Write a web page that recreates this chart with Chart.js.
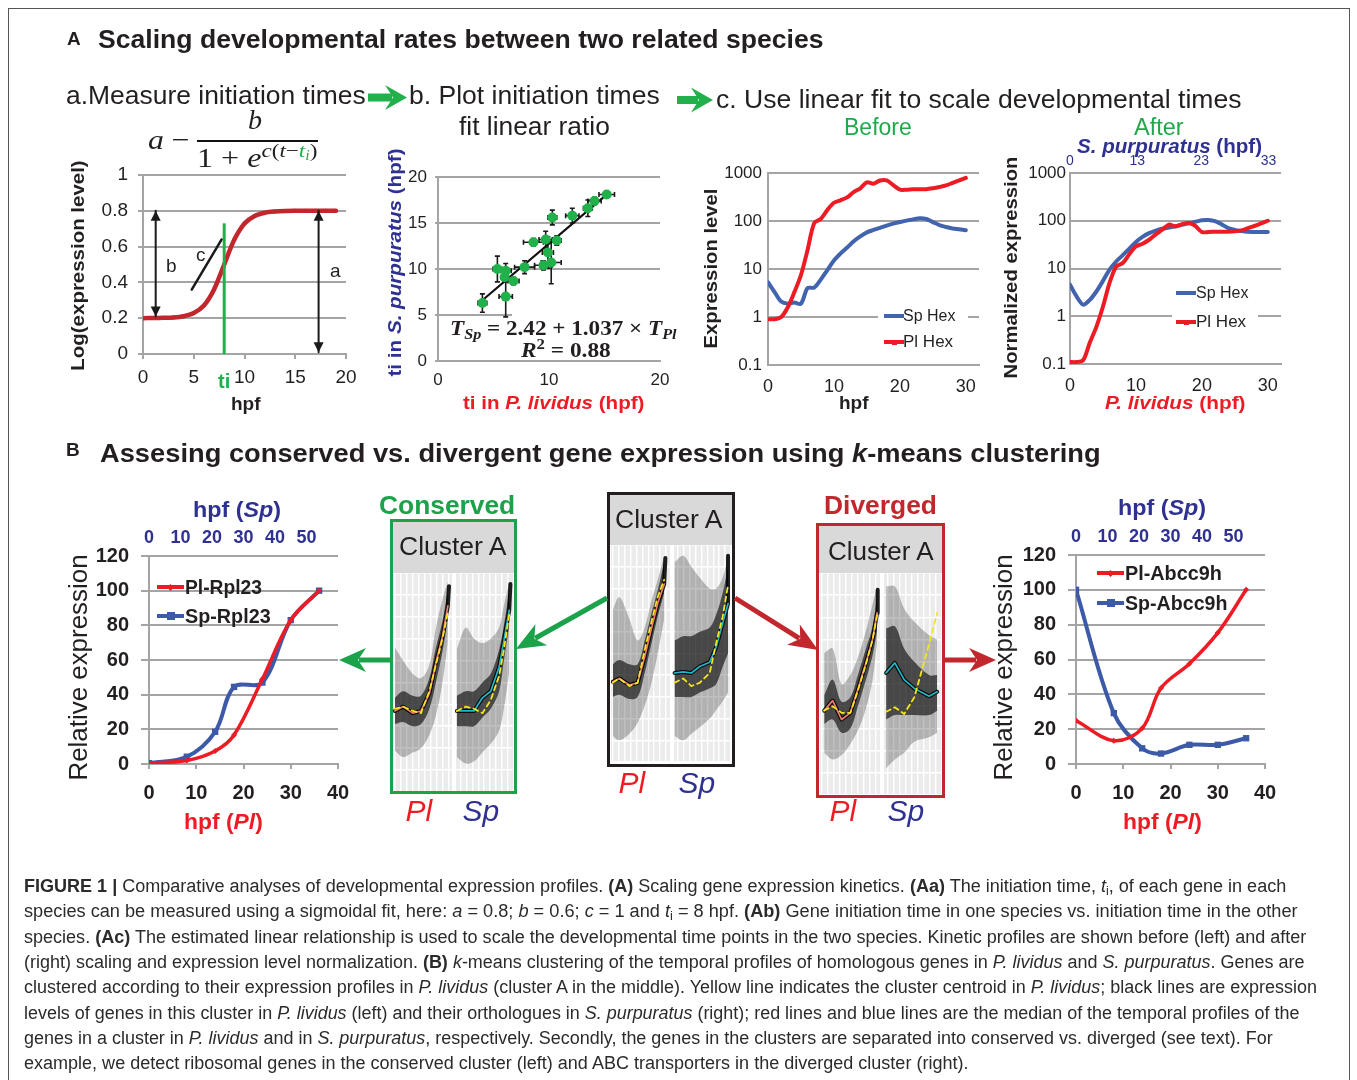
<!DOCTYPE html>
<html><head><meta charset="utf-8">
<script src="https://cdn.jsdelivr.net/npm/chart.js@4.4.1/dist/chart.umd.min.js"></script>
<style>
html,body{margin:0;padding:0;background:#fff;}
body{width:1357px;height:1080px;position:relative;overflow:hidden;font-family:"Liberation Sans",Arial,sans-serif;color:#231f20;}
.t{position:absolute;white-space:nowrap;line-height:1;}
.t sub{font-size:0.7em;vertical-align:-0.25em;line-height:0;}
.t sup{font-size:0.72em;vertical-align:0.5em;line-height:0;}
canvas{position:absolute;}
.box{position:absolute;box-sizing:border-box;}
</style></head><body>
<script>
// ===================== DATA =====================
// A-a: sigmoid fit example
const aaHpf = [0,1,2,3,4,5,6,7,8,9,10,11,12,13,14,15,16,17,18,19];
const aaLogExpr = [0.200,0.201,0.202,0.204,0.211,0.229,0.271,0.361,0.500,0.639,0.729,0.771,0.789,0.796,0.799,0.800,0.800,0.800,0.800,0.800];
const aaXTicks = [0,5,10,15,20];
const aaXTickLabels = ['0','5','10','15','20'];
const aaYTicks = [0,0.2,0.4,0.6,0.8,1];
const aaYTickLabels = ['0','0.2','0.4','0.6','0.8','1'];
const aaTiX = [8,8];            const aaTiY = [0,0.73];
const aaArrowBX = [1.25,1.25];  const aaArrowBY = [0.21,0.8];
const aaArrowAX = [17.3,17.3];  const aaArrowAY = [0.01,0.8];
const aaSlopeX = [4.8,7.75];    const aaSlopeY = [0.36,0.64];

// A-b: initiation times, P. lividus vs S. purpuratus
const abPl    = [4.0,5.35,6.1,6.0,6.1,6.8,7.8,8.6,9.5,9.7,9.9,10.2,10.3,10.7,12.1,13.5,14.1,15.2];
const abSp    = [6.3,10.0,9.8,9.1,7.0,8.7,10.2,12.9,10.4,13.2,11.8,10.7,15.6,13.1,15.8,16.6,17.4,18.1];
const abPlErr = [0.4,0.4,0.5,0.3,0.6,0.5,0.9,0.9,0.8,0.6,0.5,0.9,0.4,0.4,0.6,0.4,0.6,0.7];
const abSpErr = [1.0,1.4,0.8,0.5,2.2,0.4,0.7,0.4,0.5,0.9,1.7,2.3,0.8,0.5,0.8,0.9,0.4,0.3];
const abFitPl = [4.0,15.3];
const abFitSp = [6.6,18.2];
const abXTicks = [0,10,20];      const abXTickLabels = ['0','10','20'];
const abYTicks = [0,5,10,15,20]; const abYTickLabels = ['0','5','10','15','20'];

// A-c: Hex expression before / after scaling
const hexHpf = [0,1,2,3,4,5,6,7,8,9,10,11,12,13,14,15,16,17,18,19,20,21,22,23,24,25,26,27,28,29,30];
const spHexBefore = [5.3,3.3,2.1,1.9,2.0,1.9,4.0,4.1,6,9.5,15,21,28,38,48,58,65,72,80,88,95,102,108,114,110,95,82,75,70,67,64];
const plHexBefore = [0.9,0.9,1.0,1.6,3.3,7.5,25,90,110,170,240,270,310,400,480,640,600,700,700,560,450,450,460,460,460,480,510,550,620,700,790];
const spHexAfter  = [4.6,2.6,1.75,2.2,3.3,5.5,9.5,14,19,26,36,46,55,62,68,72,77,82,88,95,102,104,98,84,70,64,61,59,58,58,58];
const plHexAfter  = [0.11,0.11,0.12,0.28,0.6,1.6,5,11,13,20,29,33,40,52,65,83,76,85,90,78,58,58,59,59,59,60,63,70,78,88,100];
const logTicks = [0.1,1,10,100,1000];
const logTickLabels = ['0.1','1','10','100','1000'];
const hexXTicks = [0,10,20,30];  const hexXTickLabels = ['0','10','20','30'];
const spTopTickPos = [0,10.2,19.9,30.1];
const spTopTickLabels = ['0','13','23','33'];

// B: example genes
const bHpfPl = [0,8,14,18,24,30,36];
const plRpl23  = [0.5,2,7.5,16.7,49,83,100];
const spRpl23  = [0.5,4.2,18.6,44.5,47,83,100];
const plAbcc9h = [25,13.4,20.5,43.6,57.6,75.3,100];
const spAbcc9h = [100,29.2,9,6,11,11,14.8];
const bXTicks = [0,10,20,30,40];           const bXTickLabels = ['0','10','20','30','40'];
const bTopTicks = [0,10,20,30,40,50];      const bTopTickLabels = ['0','10','20','30','40','50'];
const bYTicks = [0,20,40,60,80,100,120];   const bYTickLabels = ['0','20','40','60','80','100','120'];

// B: cluster A profiles (panel units: x = time slot, y = scaled level)
const consPlX=[0,1.4,3.0,4.4,5.8,6.9,8.0,8.9];
const consPlMedian=[3.7,3.9,3.6,3.7,4.5,5.9,7.1,8.5];
const consPlCentroid=[3.8,3.9,3.7,3.6,4.6,5.8,7.0,8.2];
const consPlInLo=[3.1,3.2,3.0,3.1,3.8,5.0,6.4,7.9];
const consPlInHi=[4.3,4.6,4.4,4.4,5.2,6.6,7.8,9.2];
const consPlOutLo=[1.9,1.6,1.8,2.0,2.6,3.5,5.0,6.9];
const consPlOutHi=[6.6,6.0,5.4,5.2,5.8,7.5,8.8,9.6];
const consPlTop=[9.1,9.4];
const consSpX=[10.4,11.9,13.3,14.7,16.1,17.5,18.3,19.2];
const consSpMedian=[3.7,3.7,3.7,4.3,4.6,5.7,6.9,8.3];
const consSpCentroid=[3.7,3.9,3.8,3.6,4.2,5.3,6.5,8.1];
const consSpInLo=[3.0,3.0,3.0,3.4,3.8,4.6,6.0,7.6];
const consSpInHi=[4.4,4.6,4.6,5.0,5.4,6.5,7.6,9.2];
const consSpOutLo=[1.6,1.3,1.4,1.8,2.2,2.8,3.8,5.5];
const consSpOutHi=[6.5,7.5,7.0,6.8,7.0,7.5,8.5,9.6];
const consSpTop=[19.4,9.5];

const midPlX=[0,1.1,2.8,4.2,5.4,6.5,7.6,8.7];
const midPlMedian=[3.7,3.85,3.55,3.65,4.85,6.1,7.3,8.2];
const midPlCentroid=[3.65,3.85,3.5,3.65,5.15,6.4,7.6,8.4];
const midPlInLo=[3.0,3.1,2.9,3.0,4.1,5.4,6.7,7.8];
const midPlInHi=[4.5,4.7,4.5,4.5,5.6,6.8,7.9,9.2];
const midPlOutLo=[1.2,1.0,1.3,1.8,2.6,3.6,5.0,6.6];
const midPlOutHi=[7.0,7.6,6.6,5.6,6.2,7.4,8.4,9.5];
const midPlTop=[8.9,9.4];
const midSpX=[10.45,11.9,13.3,14.7,16.4,17.5,18.6,19.5];
const midSpMedian=[4.1,4.15,4.1,4.4,4.6,5.3,6.4,7.3];
const midSpCentroid=[3.65,3.85,3.5,3.65,4.1,5.5,6.7,8.15];
const midSpInLo=[3.0,3.0,3.0,3.2,3.4,3.6,4.4,5.0];
const midSpInHi=[5.6,5.8,5.8,6.0,6.2,6.8,7.8,9.0];
const midSpOutLo=[1.2,1.0,1.3,1.6,2.0,2.4,2.8,3.2];
const midSpOutHi=[9.2,9.5,9.0,8.5,8.0,8.0,8.5,9.5];
const midSpTop=[19.5,9.5];

const divPlX=[0.4,1.8,3.3,4.75,6.0,7.35,8.45,9.2];
const divPlMedian=[3.8,4.25,3.4,3.7,4.75,5.95,7.0,8.2];
const divPlCentroid=[3.8,4.0,3.7,3.7,4.7,5.9,7.0,8.1];
const divPlInLo=[3.2,3.4,2.8,3.0,4.0,5.2,6.3,7.4];
const divPlInHi=[4.5,5.2,4.2,4.4,5.4,6.6,7.6,9.0];
const divPlOutLo=[1.9,1.6,1.8,2.3,2.9,3.9,5.2,6.9];
const divPlOutHi=[6.4,6.6,5.0,5.4,6.2,7.4,8.6,9.4];
const divPlTop=[9.3,9.25];
const divSpX=[10.7,12.15,13.7,15.4,17.85,19.2];
const divSpMedian=[5.5,5.95,5.2,4.8,4.45,4.65];
const divSpCentroid=[3.75,3.95,3.65,4.4,6.8,8.2];
const divSpInLo=[3.4,3.6,3.6,3.6,3.6,3.8];
const divSpInHi=[7.5,7.6,6.6,6.0,5.4,5.4];
const divSpOutLo=[1.2,1.6,1.9,2.4,2.6,2.8];
const divSpOutHi=[9.4,9.4,8.4,7.8,7.2,7.0];
const divSpTop=null;
const clusterGridX=[0,1,2,3,4,5,6,7,8,9,10,11,12,13,14,15,16,17,18,19,20];
const clusterGridY=[0,1,2,3,4,5,6,7,8,9,10];

// ===================== STYLE =====================
const GRID='#a4a4a4', GREEN='#22a84a', RED='#ed1c24', BLUE='#2e3192', DRED='#c1272d';
const HEXBLUE='#4263ae', BBLUE='#3c5aa8';
Chart.defaults.font.family='"Liberation Sans", Arial, Helvetica, sans-serif';
Chart.defaults.color='#231f20';
Chart.defaults.animation=false;
Chart.defaults.responsive=false;
Chart.defaults.devicePixelRatio=1;
Chart.defaults.plugins.legend.display=false;
Chart.defaults.plugins.tooltip.enabled=false;
Chart.defaults.elements.point.radius=0;
Chart.defaults.elements.line.borderCapStyle='round';
Chart.defaults.elements.line.borderJoinStyle='round';

const P=(xs,ys)=>xs.map((x,i)=>({x:x,y:ys[i]}));
function cv(l,t,w,h){const c=document.createElement('canvas');c.width=w;c.height=h;
  Object.assign(c.style,{left:l+'px',top:t+'px',width:w+'px',height:h+'px'});document.body.appendChild(c);return c.getContext('2d');}
function ax(o){
  return {type:o.type||'linear',min:o.min,max:o.max,position:o.pos,
    afterBuildTicks:s=>{s.ticks=o.ticks.map(v=>({value:v}));},
    ticks:{display:!!o.labels,font:{size:o.size||18,weight:o.bold?'bold':'normal'},color:o.color||'#231f20',
      padding:o.pad==null?6:o.pad,maxRotation:0,autoSkip:false,callback:(v,i)=>o.labels?o.labels[i]:''},
    grid:{drawOnChartArea:!!o.grid,drawTicks:!!o.tl,tickLength:o.tl||0,color:o.gridColor||GRID,lineWidth:o.gridW||2},
    border:{display:o.border!==false,color:GRID,width:2},
    afterFit:s=>{if(o.w!=null)s.width=o.w;if(o.h!=null)s.height=o.h;
      s.paddingTop=0;s.paddingBottom=0;s.paddingLeft=0;s.paddingRight=0;}};
}
// create a chart whose plot area lands on the given page rectangle
function mk(l,t,w,h,rect,cfg){
  cfg.options=cfg.options||{};
  cfg.options.layout={padding:{top:0,left:0,right:0,bottom:0}};
  const ch=new Chart(cv(l,t,w,h),cfg);
  for(let k=0;k<4;k++){
    const a=ch.chartArea,p=ch.config.options.layout.padding;
    const dT=(rect[1]-t)-a.top,dL=(rect[0]-l)-a.left,dR=a.right-(rect[2]-l),dB=a.bottom-(rect[3]-t);
    if(Math.abs(dT)+Math.abs(dL)+Math.abs(dR)+Math.abs(dB)<0.5)break;
    p.top+=dT;p.left+=dL;p.right+=dR;p.bottom+=dB;ch.update();
  }
  return ch;
}
const arrowPlugin={id:'arrowEnds',afterDatasetsDraw(chart){
  const ctx=chart.ctx;
  chart.data.datasets.forEach((ds,i)=>{
    if(!ds.arrowEnds)return;
    const pts=chart.getDatasetMeta(i).data;
    const head=(p,q)=>{const a=Math.atan2(p.y-q.y,p.x-q.x),L=10,W=5;
      ctx.beginPath();ctx.moveTo(p.x,p.y);
      ctx.lineTo(p.x-L*Math.cos(a)+W*Math.sin(a),p.y-L*Math.sin(a)-W*Math.cos(a));
      ctx.lineTo(p.x-L*Math.cos(a)-W*Math.sin(a),p.y-L*Math.sin(a)+W*Math.cos(a));
      ctx.closePath();ctx.fillStyle=ds.borderColor;ctx.fill();};
    ctx.save();head(pts[0],pts[1]);head(pts[pts.length-1],pts[pts.length-2]);ctx.restore();
  });}};
const errPlugin={id:'errBars',beforeDatasetsDraw(chart){
  const xs=chart.scales.x,ys=chart.scales.y,ctx=chart.ctx;ctx.save();ctx.strokeStyle='#1a1a1a';ctx.lineWidth=1.6;
  abPl.forEach((x,i)=>{const y=abSp[i];const px=xs.getPixelForValue(x),py=ys.getPixelForValue(y);
    const x0=xs.getPixelForValue(x-abPlErr[i]),x1=xs.getPixelForValue(x+abPlErr[i]);
    const y0=ys.getPixelForValue(y-abSpErr[i]),y1=ys.getPixelForValue(y+abSpErr[i]);
    ctx.beginPath();ctx.moveTo(x0,py);ctx.lineTo(x1,py);ctx.moveTo(px,y0);ctx.lineTo(px,y1);
    ctx.moveTo(x0,py-2.5);ctx.lineTo(x0,py+2.5);ctx.moveTo(x1,py-2.5);ctx.lineTo(x1,py+2.5);
    ctx.moveTo(px-2.5,y0);ctx.lineTo(px+2.5,y0);ctx.moveTo(px-2.5,y1);ctx.lineTo(px+2.5,y1);ctx.stroke();});
  ctx.restore();}};
const panelBg={id:'panelBg',beforeDraw(chart){const a=chart.chartArea,ctx=chart.ctx;ctx.save();ctx.fillStyle='#ebebeb';
  ctx.fillRect(a.left,a.top,a.right-a.left,a.bottom-a.top);ctx.restore();}};

// ===================== CHARTS =====================
// A-a
mk(90,160,270,235,[143,175,346,354],{type:'line',data:{datasets:[
  {data:P(aaTiX,aaTiY),borderColor:'#20b04b',borderWidth:3,borderCapStyle:'butt'},
  {data:P(aaArrowBX,aaArrowBY),borderColor:'#1a1a1a',borderWidth:2,arrowEnds:true},
  {data:P(aaArrowAX,aaArrowAY),borderColor:'#1a1a1a',borderWidth:2,arrowEnds:true},
  {data:P(aaSlopeX,aaSlopeY),borderColor:'#1a1a1a',borderWidth:2.5},
  {data:P(aaHpf,aaLogExpr),borderColor:'#c1272d',borderWidth:4.5,tension:0.3,pointRadius:2,pointBackgroundColor:'#c1272d',pointBorderWidth:0}
]},options:{scales:{
  x:ax({min:0,max:20,ticks:aaXTicks,labels:aaXTickLabels,size:19,pad:7,tl:5,h:41}),
  y:ax({min:0,max:1,ticks:aaYTicks,labels:aaYTickLabels,size:19,pad:10,tl:5,grid:true,w:53})
}},plugins:[arrowPlugin]});

// A-b
mk(395,165,280,228,[438,177,660,361],{type:'line',data:{datasets:[
  {data:P(abPl,abSp),showLine:false,pointRadius:5,pointBackgroundColor:'#21b14b',pointBorderWidth:0},
  {data:P(abFitPl,abFitSp),borderColor:'#111',borderWidth:2.2}
]},options:{scales:{
  x:ax({min:0,max:20,ticks:abXTicks,labels:abXTickLabels,size:17,pad:9,h:32}),
  y:ax({min:0,max:20,ticks:abYTicks,labels:abYTickLabels,size:17,pad:8,tl:3,grid:true,w:43})
}},plugins:[errPlugin]});

// A-c before
mk(715,160,275,232,[768,173,979,365],{type:'line',data:{datasets:[
  {data:P(hexHpf,plHexBefore),borderColor:RED,borderWidth:4,tension:0.3,pointRadius:1.8,pointStyle:'rect',pointBackgroundColor:RED,pointBorderWidth:0},
  {data:P(hexHpf,spHexBefore),borderColor:HEXBLUE,borderWidth:4,tension:0.3}
]},options:{scales:{
  x:ax({min:0,max:32,ticks:hexXTicks,labels:hexXTickLabels,size:18,pad:11,h:27}),
  y:ax({type:'logarithmic',min:0.1,max:1000,ticks:logTicks,labels:logTickLabels,size:17,pad:6,grid:true,w:53})
}}});

// A-c after
mk(1025,140,268,252,[1070,173,1281,364],{type:'line',data:{datasets:[
  {data:P(hexHpf,plHexAfter),borderColor:RED,borderWidth:4,tension:0.3,pointRadius:1.8,pointStyle:'rect',pointBackgroundColor:RED,pointBorderWidth:0},
  {data:P(hexHpf,spHexAfter),borderColor:HEXBLUE,borderWidth:4,tension:0.3}
]},options:{scales:{
  x:ax({min:0,max:32,ticks:hexXTicks,labels:hexXTickLabels,size:18,pad:11,h:28}),
  x2:ax({pos:'top',min:0,max:32,ticks:spTopTickPos,labels:spTopTickLabels,size:14,color:BLUE,pad:3,border:false,h:33}),
  y:ax({type:'logarithmic',min:0.1,max:1000,ticks:logTicks,labels:logTickLabels,size:17,pad:4,grid:true,w:45})
}}});

// B left / right
function bChart(l,t,w,h,rect,yw,topH,plData,spData){
  mk(l,t,w,h,rect,{type:'line',data:{datasets:[
    {data:P(bHpfPl,plData),borderColor:RED,borderWidth:3.5,tension:0.35,pointRadius:3,pointStyle:'rectRot',pointBackgroundColor:RED,pointBorderWidth:0},
    {data:P(bHpfPl,spData),borderColor:BBLUE,borderWidth:4,tension:0.35,pointRadius:4.5,pointStyle:'rect',pointBackgroundColor:BBLUE,pointBorderWidth:0}
  ]},options:{scales:{
    x:ax({min:0,max:40,ticks:bXTicks,labels:bXTickLabels,size:20,bold:true,pad:12,tl:5,h:51}),
    x2:ax({pos:'top',min:0,max:60,ticks:bTopTicks,labels:bTopTickLabels,size:18,bold:true,color:BLUE,pad:7,border:false,h:topH}),
    y:ax({min:0,max:120,ticks:bYTicks,labels:bYTickLabels,size:20,bold:true,pad:12,tl:8,grid:true,w:yw})
  }}});
}
bChart(85,525,265,290,[149,556,338,764],64,31,plRpl23,spRpl23);
bChart(1010,525,270,290,[1076,555,1265,764],66,30,plAbcc9h,spAbcc9h);

// B clusters
function facet(x,med,cen,inLo,inHi,outLo,outHi,top){return {x,med,cen,inLo,inHi,outLo,outHi,top};}
function clusterChart(l,t,w,h,pl,sp){
  const core=f=>P(f.x,f.med).concat(f.top?[{x:f.top[0],y:f.top[1]}]:[]);
  const band=(f,lo,hi,col)=>[
    {data:P(f.x,hi),fill:'+1',backgroundColor:col,borderColor:'transparent',borderWidth:0,tension:0.35},
    {data:P(f.x,lo),fill:false,borderColor:'transparent',borderWidth:0,tension:0.35}];
  const ds=[
    {data:P(pl.x,pl.cen),borderColor:'#f3e51e',borderWidth:1.8,borderDash:[5,4]},
    {data:P(sp.x,sp.cen),borderColor:'#f3e51e',borderWidth:1.8,borderDash:[5,4]},
    {data:P(pl.x,pl.med),borderColor:'#f27b70',borderWidth:1.7},
    {data:P(sp.x,sp.med),borderColor:'#20b7c6',borderWidth:1.7},
    {data:core(pl),borderColor:'rgba(0,0,0,0.88)',borderWidth:4},
    {data:core(sp),borderColor:'rgba(0,0,0,0.88)',borderWidth:4}
  ].concat(band(pl,pl.inLo,pl.inHi,'rgba(0,0,0,0.6)'),band(sp,sp.inLo,sp.inHi,'rgba(0,0,0,0.6)'),
           band(pl,pl.outLo,pl.outHi,'rgba(30,30,30,0.28)'),band(sp,sp.outLo,sp.outHi,'rgba(30,30,30,0.28)'));
  mk(l,t,w,h,[l,t,l+w,t+h],{type:'line',data:{datasets:ds},options:{scales:{
    x:ax({min:-0.3,max:20,ticks:clusterGridX,labels:null,grid:true,gridColor:'#ffffff',gridW:c=>(c.tick&&c.tick.value===10)?4:1.4,border:false,h:0}),
    y:ax({min:0,max:10,ticks:clusterGridY,labels:null,grid:true,gridColor:'#ffffff',gridW:1.6,border:false,w:0})
  }},plugins:[panelBg]});
}
clusterChart(393,573,121,219,
  facet(consPlX,consPlMedian,consPlCentroid,consPlInLo,consPlInHi,consPlOutLo,consPlOutHi,consPlTop),
  facet(consSpX,consSpMedian,consSpCentroid,consSpInLo,consSpInHi,consSpOutLo,consSpOutHi,consSpTop));
clusterChart(611,545,120,217,
  facet(midPlX,midPlMedian,midPlCentroid,midPlInLo,midPlInHi,midPlOutLo,midPlOutHi,midPlTop),
  facet(midSpX,midSpMedian,midSpCentroid,midSpInLo,midSpInHi,midSpOutLo,midSpOutHi,midSpTop));
clusterChart(820,573,122,222,
  facet(divPlX,divPlMedian,divPlCentroid,divPlInLo,divPlInHi,divPlOutLo,divPlOutHi,divPlTop),
  facet(divSpX,divSpMedian,divSpCentroid,divSpInLo,divSpInHi,divSpOutLo,divSpOutHi,divSpTop));

// ===================== OVERLAYS =====================
function B(l,t,w,h,css){const d=document.createElement('div');d.className='box';
  Object.assign(d.style,{left:l+'px',top:t+'px',width:w+'px',height:h+'px'},css||{});document.body.appendChild(d);return d;}
function T(html,x,y,o){o=o||{};const d=document.createElement('div');d.className='t';d.innerHTML=html;const s=d.style;
  s.fontSize=(o.size||18)+'px';s.fontWeight=o.bold?'700':'400';if(o.italic)s.fontStyle='italic';
  s.color=o.color||'#231f20';if(o.font)s.fontFamily=o.font;document.body.appendChild(d);
  const mw=d.offsetWidth,mh=d.offsetHeight,w=o.w||mw,k=w/mw;
  if(o.rot){s.left=(x-mw/2)+'px';s.top=(y-mh/2)+'px';s.transformOrigin='50% 50%';s.transform='rotate(-90deg) scaleX('+k+')';}
  else{let left=x;if(o.align==='c')left=x-w/2;else if(o.align==='r')left=x-w;
    s.left=left+'px';s.top=(y-mh/2)+'px';s.transformOrigin='0 50%';s.transform='scaleX('+k+')';}
  return d;}
const SERIF='"Liberation Serif","DejaVu Serif",serif';

// frame
B(8,8,1342,1100,{border:'1.5px solid #555'});

// cluster boxes
B(392,522,123,51,{background:'#d9d9d9'});
B(609,494,124,51,{background:'#d9d9d9'});
B(818,525,125,48,{background:'#d9d9d9'});
B(390,519,127,275,{border:'3px solid #1ba24a'});
B(607,492,128,275,{border:'3px solid #231f20'});
B(816,523,129,275,{border:'3px solid '+DRED});

// equation white box (A-b)
B(512,308,168,50,{background:'#fff'});
// legends (A-c)
B(878,302,90,52,{background:'#fff'});
B(1172,280,86,55,{background:'#fff'});
function legendLine(x,y,w,color,marker,ms){B(x,y-2,w,4,{background:color});
  if(marker==='rect')B(x+w/2-ms/2,y-ms/2,ms,ms,{background:color});
  if(marker==='diamond')B(x+w/2-ms/2,y-ms/2,ms,ms,{background:color,transform:'rotate(45deg)'});}
legendLine(884,316,20,HEXBLUE);        T('Sp Hex',903,316,{size:16,w:52});
legendLine(884,342,20,RED,'rect',5);   T('Pl Hex',903,342,{size:16,w:50});
legendLine(1176,293,20,HEXBLUE);       T('Sp Hex',1196,293,{size:16,w:52});
legendLine(1176,322,20,RED,'rect',5);  T('Pl Hex',1196,322,{size:16,w:50});
legendLine(157,587,27,RED,'diamond',5);  T('Pl-Rpl23',185,587,{size:20,bold:true,w:77});
legendLine(157,616,27,BBLUE,'rect',8);   T('Sp-Rpl23',185,616,{size:20,bold:true,w:86});
legendLine(1097,573,27,RED,'diamond',5); T('Pl-Abcc9h',1125,573,{size:20,bold:true,w:97});
legendLine(1097,603,27,BBLUE,'rect',8);  T('Sp-Abcc9h',1125,603,{size:20,bold:true,w:102});

// headings
T('A',67,38,{size:19,bold:true});
T('Scaling developmental rates between two related species',98,39,{size:26,bold:true,w:725});
T('a.Measure initiation times',66,95,{size:26,w:300});
T('b. Plot initiation times',409,95,{size:26,w:251});
T('fit linear ratio',459,126,{size:26,w:151});
T('c. Use linear fit to scale developmental times',716,99,{size:26,w:525});
T('Before',878,127,{size:23,color:GREEN,align:'c',w:68});
T('After',1159,127,{size:23,color:GREEN,align:'c',w:50});
T('<i>S. purpuratus</i> (hpf)',1169,146,{size:20,bold:true,color:BLUE,align:'c',w:185});

// A-a annotations
T('<i>a</i> −',148,140,{size:28,font:SERIF,w:42});
T('<i>b</i>',255,120,{size:28,font:SERIF,align:'c'});
B(197,140,121,2,{background:'#111'});
T('1 + <i>e</i><sup><i>c</i>(<i>t</i>−<i style="color:#20b04b">t<sub>i</sub></i>)</sup>',257,158,{size:27,font:SERIF,align:'c',w:120});
T('b',166,265,{size:19});T('c',196,254,{size:19});T('a',330,270,{size:19});
T('ti',224,381,{size:20,bold:true,color:'#20b04b',align:'c'});
T('hpf',246,403,{size:19,bold:true,align:'c'});
T('Log(expression level)',77,265,{size:19,bold:true,rot:true,w:210});
// A-b
T('ti in <i>S. purpuratus</i> (hpf)',394,262,{size:19,bold:true,color:BLUE,rot:true,w:228});
T('ti in <i>P. lividus</i> (hpf)',554,402,{size:19,bold:true,color:RED,align:'c',w:182});
T('<i>T<sub>Sp</sub></i> = 2.42 + 1.037 × <i>T<sub>Pl</sub></i>',563,328,{size:21,bold:true,font:SERIF,align:'c',w:227});
T('<i>R</i><sup>2</sup> = 0.88',566,350,{size:21,bold:true,font:SERIF,align:'c',w:90});
// A-c
T('Expression level',711,268,{size:19,bold:true,rot:true,w:160});
T('hpf',854,402,{size:19,bold:true,align:'c'});
T('Normalized expression',1010,267,{size:19,bold:true,rot:true,w:222});
T('<i>P. lividus</i> (hpf)',1175,402,{size:19,bold:true,color:RED,align:'c',w:140});

// panel B texts
T('B',66,449,{size:19,bold:true});
T('Assesing conserved vs. divergent gene expression using <i>k</i>-means clustering',100,453,{size:26,bold:true,w:1001});
T('Conserved',447,505,{size:25,bold:true,color:'#1ba24a',align:'c',w:136});
T('Diverged',880,505,{size:25,bold:true,color:DRED,align:'c',w:113});
T('hpf (<i>Sp</i>)',237,510,{size:22,bold:true,color:BLUE,align:'c',w:88});
T('hpf (<i>Sp</i>)',1162,508,{size:22,bold:true,color:BLUE,align:'c',w:88});
T('hpf (<i>Pl</i>)',223,822,{size:22,bold:true,color:RED,align:'c',w:79});
T('hpf (<i>Pl</i>)',1162,822,{size:22,bold:true,color:RED,align:'c',w:79});
T('Relative expression',78,667,{size:25,rot:true,w:226});
T('Relative expression',1003,667,{size:25,rot:true,w:226});
T('Cluster A',453,546,{size:26,align:'c',w:108});
T('Cluster A',669,519,{size:26,align:'c',w:108});
T('Cluster A',881,551,{size:26,align:'c',w:106});
[[419,811,'Pl',RED],[481,811,'Sp',BLUE],[632,783,'Pl',RED],[697,783,'Sp',BLUE],[843,811,'Pl',RED],[906,811,'Sp',BLUE]]
  .forEach(a=>T(a[2],a[0],a[1],{size:30,italic:true,color:a[3],align:'c'}));

// arrows (svg)
const NS='http://www.w3.org/2000/svg';
const svg=document.createElementNS(NS,'svg');svg.setAttribute('width','1357');svg.setAttribute('height','1080');
svg.style.position='absolute';svg.style.left='0';svg.style.top='0';document.body.appendChild(svg);
function arrow(x1,y1,x2,y2,color,lw,L,W){
  const dx=x2-x1,dy=y2-y1,len=Math.hypot(dx,dy),ux=dx/len,uy=dy/len,px=-uy,py=ux;
  const bx=x2-ux*L,by=y2-uy*L;
  const ln=document.createElementNS(NS,'line');
  ln.setAttribute('x1',x1);ln.setAttribute('y1',y1);ln.setAttribute('x2',bx+ux*4);ln.setAttribute('y2',by+uy*4);
  ln.setAttribute('stroke',color);ln.setAttribute('stroke-width',lw);svg.appendChild(ln);
  const pg=document.createElementNS(NS,'polygon');
  const pts=[[x2,y2],[bx+px*W-ux*3,by+py*W-uy*3],[bx+ux*5,by+uy*5],[bx-px*W-ux*3,by-py*W-uy*3]];
  pg.setAttribute('points',pts.map(p=>p.join(',')).join(' '));pg.setAttribute('fill',color);svg.appendChild(pg);}
arrow(368,97.5,407,97.5,'#21b04b',8,19,12.5);
arrow(677,100,713,100,'#21b04b',8,19,12.5);
arrow(607,598,516,649,'#1ba24a',5,26,12);
arrow(735,598,818,650,DRED,5,26,12);
arrow(390,660,339,660,'#1ba24a',5,24,12);
arrow(945,660,996,660,DRED,5,24,12);

// caption
const capLines=[
 '<b>FIGURE 1 |</b> Comparative analyses of developmental expression profiles. <b>(A)</b> Scaling gene expression kinetics. <b>(Aa)</b> The initiation time, <i>t</i><sub>i</sub>, of each gene in each',
 'species can be measured using a sigmoidal fit, here: <i>a</i> = 0.8; <i>b</i> = 0.6; <i>c</i> = 1 and <i>t</i><sub>i</sub> = 8 hpf. <b>(Ab)</b> Gene initiation time in one species vs. initiation time in the other',
 'species. <b>(Ac)</b> The estimated linear relationship is used to scale the developmental time points in the two species. Kinetic profiles are shown before (left) and after',
 '(right) scaling and expression level normalization. <b>(B)</b> <i>k</i>-means clustering of the temporal profiles of homologous genes in <i>P. lividus</i> and <i>S. purpuratus</i>. Genes are',
 'clustered according to their expression profiles in <i>P. lividus</i> (cluster A in the middle). Yellow line indicates the cluster centroid in <i>P. lividus</i>; black lines are expression',
 'levels of genes in this cluster in <i>P. lividus</i> (left) and their orthologues in <i>S. purpuratus</i> (right); red lines and blue lines are the median of the temporal profiles of the',
 'genes in a cluster in <i>P. lividus</i> and in <i>S. purpuratus</i>, respectively. Secondly, the genes in the clusters are separated into conserved vs. diverged (see text). For',
 'example, we detect ribosomal genes in the conserved cluster (left) and ABC transporters in the diverged cluster (right).'];
const capEnds=[1286,1298,1306,1304,1317,1299,1273,968];
capLines.forEach((h,i)=>T(h,24,886+i*25.3,{size:18,font:'"Liberation Sans Narrow","Liberation Sans",Arial,sans-serif',color:'#2b2b2b',w:capEnds[i]-24}));
</script>
</body></html>
